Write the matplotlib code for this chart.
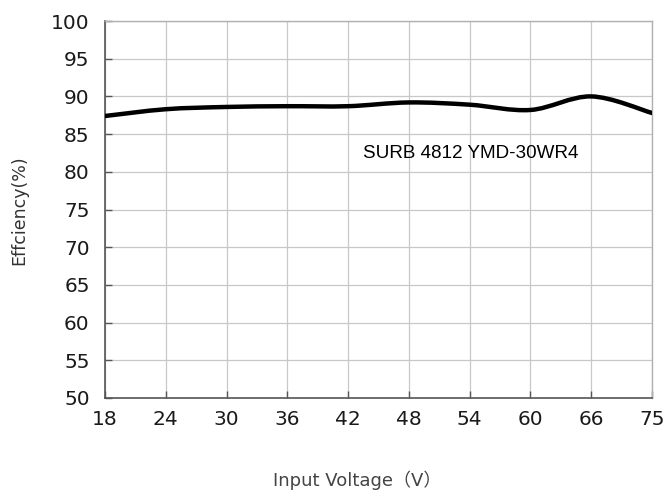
import numpy as np
import matplotlib
matplotlib.use("Agg")
import matplotlib.pyplot as plt
from matplotlib.path import Path
from matplotlib.patches import PathPatch

# Dati
voltage_labels = ['18', '24', '30', '36', '42', '48', '54', '60', '66', '75']
efficiency = [87.4, 88.3, 88.6, 88.7, 88.7, 89.2, 88.9, 88.2, 90.0, 87.8]
y_ticks = [50, 55, 60, 65, 70, 75, 80, 85, 90, 95, 100]
model_name = 'SURB 4812 YMD-30WR4'

fig = plt.figure(figsize=(6.67, 4.93), dpi=100)
ax = fig.add_axes([0.1574, 0.1927, 0.8201, 0.7647])

# Curva liscia (Catmull-Rom -> Bezier) disegnata come Path
x = np.arange(len(efficiency), dtype=float)
y = np.array(efficiency)
pts = np.column_stack([x, y])
ext = np.vstack([pts[0], pts, pts[-1]])
verts = [tuple(pts[0])]
codes = [Path.MOVETO]
for i in range(len(pts) - 1):
    p0, p1, p2, p3 = ext[i], ext[i + 1], ext[i + 2], ext[i + 3]
    c1 = p1 + (p2 - p0) / 6
    c2 = p2 - (p3 - p1) / 6
    verts += [tuple(c1), tuple(c2), tuple(p2)]
    codes += [Path.CURVE4] * 3
ax.add_patch(PathPatch(Path(verts, codes), fill=False, edgecolor='black',
                       linewidth=3.2, capstyle='round', zorder=3))

ax.set_xlim(0, len(voltage_labels) - 1)
ax.set_ylim(50, 100)
ax.set_xticks(x)
ax.set_xticklabels(voltage_labels)
ax.set_yticks(y_ticks)

ax.grid(True, color='#c8c8c8', linewidth=0.9)
ax.set_axisbelow(True)
ax.tick_params(axis='both', direction='in', length=5, width=1, color='#555555',
               labelsize=14.5, labelcolor='#1a1a1a')
ax.tick_params(axis='y', pad=11)
ax.tick_params(axis='x', pad=9)
for s in ['left', 'bottom']:
    ax.spines[s].set_color('#555555')
    ax.spines[s].set_linewidth(1.2)
for s in ['top', 'right']:
    ax.spines[s].set_color('#b0b0b0')
    ax.spines[s].set_linewidth(1.0)

ax.text(4.245, 82.4, model_name, fontsize=13.6, va='center', ha='left',
        family=['Liberation Sans', 'DejaVu Sans'])

fig.text(19 / 667, 1 - 210 / 493, 'Effciency(%)', rotation=90, ha='center', va='center',
         fontsize=12.5, color='#333333')
fig.text(357 / 667, 1 - 480 / 493, 'Input Voltage（V）', ha='center', va='center',
         fontsize=13, color='#444444', family=['DejaVu Sans', 'Noto Sans CJK SC'])

plt.savefig('out.png', dpi=100)
